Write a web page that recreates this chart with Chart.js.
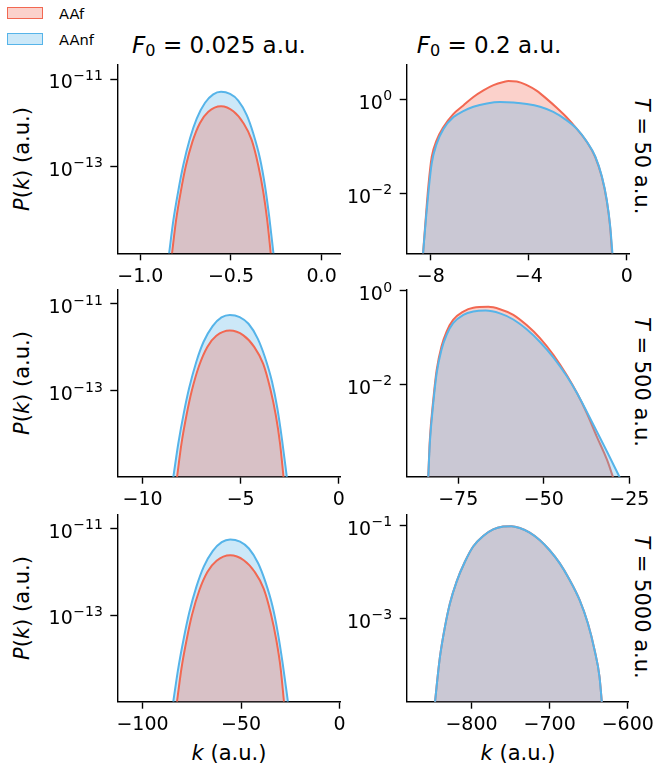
<!DOCTYPE html>
<html>
<head>
<meta charset="utf-8">
<script src="https://cdn.jsdelivr.net/npm/chart.js@4.4.1/dist/chart.umd.min.js"></script>
<style>
  html, body { margin: 0; padding: 0; background: #fff; }
  #fig { position: relative; width: 659px; height: 769px; overflow: hidden;
         font-family: 'DejaVu Sans', sans-serif; color: #000; }
  #fig canvas { position: absolute; }
  .lbl { position: absolute; white-space: nowrap; line-height: 1; transform: translate(-50%, -50%); }
  .title { font-size: 23px; }
  .axl { font-size: 21px; }
  .sw { position: absolute; width: 34px; height: 10px; border: 1.6px solid; }
  .legt { position: absolute; font-size: 14.7px; line-height: 1; transform: translateY(-50%); }
  sub { font-size: 0.7em; vertical-align: -0.22em; line-height: 0; }
</style>
</head>
<body>
<div id="fig">
  <div class="sw" style="left:7px;top:7px;border-color:#F26852;background:rgba(242,104,82,0.3)"></div>
  <div class="legt" style="left:59px;top:14px">AAf</div>
  <div class="sw" style="left:7px;top:33px;border-color:#56B4E9;background:rgba(86,180,233,0.3)"></div>
  <div class="legt" style="left:59px;top:40px">AAnf</div>

  <div class="lbl title" style="left:219px;top:45px"><i>F</i><sub>0</sub> = 0.025 a.u.</div>
  <div class="lbl title" style="left:489px;top:45px"><i>F</i><sub>0</sub> = 0.2 a.u.</div>

  <div class="lbl axl" style="left:22px;top:159px;transform:translate(-50%,-50%) rotate(-90deg)"><i>P</i>(<i>k</i>) (a.u.)</div>
  <div class="lbl axl" style="left:22px;top:383px;transform:translate(-50%,-50%) rotate(-90deg)"><i>P</i>(<i>k</i>) (a.u.)</div>
  <div class="lbl axl" style="left:22px;top:608px;transform:translate(-50%,-50%) rotate(-90deg)"><i>P</i>(<i>k</i>) (a.u.)</div>

  <div class="lbl axl" style="left:641px;top:156px;transform:translate(-50%,-50%) rotate(90deg)"><i>T</i> = 50 a.u.</div>
  <div class="lbl axl" style="left:641px;top:382px;transform:translate(-50%,-50%) rotate(90deg)"><i>T</i> = 500 a.u.</div>
  <div class="lbl axl" style="left:641px;top:607px;transform:translate(-50%,-50%) rotate(90deg)"><i>T</i> = 5000 a.u.</div>

  <div class="lbl axl" style="left:229px;top:753px"><i>k</i> (a.u.)</div>
  <div class="lbl axl" style="left:518px;top:753px"><i>k</i> (a.u.)</div>
</div>

<script>
// Photoelectron momentum distributions P(k), F0 = 0.025 a.u. (left column) and F0 = 0.2 a.u. (right column)

// F0 = 0.025 a.u., T = 50 a.u.
const kAAnf_025_50 = [-0.842, -0.818, -0.790, -0.763, -0.726, -0.689, -0.643, -0.598, -0.555, -0.505, -0.460, -0.413, -0.377, -0.340, -0.313, -0.289, -0.265];
const pAAnf_025_50 = [1.0e-15, 6.0e-15, 2.95e-14, 1.10e-13, 4.47e-13, 1.26e-12, 2.88e-12, 4.47e-12, 5.13e-12, 4.57e-12, 3.24e-12, 1.51e-12, 5.75e-13, 1.55e-13, 3.80e-14, 7.2e-15, 1.0e-15];
const kAAf_025_50 = [-0.826, -0.803, -0.777, -0.750, -0.713, -0.671, -0.625, -0.555, -0.487, -0.432, -0.386, -0.350, -0.322, -0.300, -0.280];
const pAAf_025_50 = [1.0e-15, 6.0e-15, 2.7e-14, 1.0e-13, 3.7e-13, 1.0e-12, 1.8e-12, 2.4e-12, 1.85e-12, 1.0e-12, 4.1e-13, 1.1e-13, 2.7e-14, 6.0e-15, 1.0e-15];

// F0 = 0.025 a.u., T = 500 a.u.
const kAAnf_025_500 = [-8.44, -8.18, -7.90, -7.63, -7.26, -6.89, -6.43, -5.98, -5.55, -5.05, -4.60, -4.13, -3.77, -3.40, -3.13, -2.89, -2.64];
const pAAnf_025_500 = [1.0e-15, 6.2e-15, 3.1e-14, 1.15e-13, 4.7e-13, 1.35e-12, 3.1e-12, 4.9e-12, 5.6e-12, 5.0e-12, 3.5e-12, 1.6e-12, 6.1e-13, 1.62e-13, 4.0e-14, 7.5e-15, 1.0e-15];
const kAAf_025_500 = [-8.25, -8.02, -7.76, -7.49, -7.12, -6.70, -6.24, -5.55, -4.86, -4.31, -3.85, -3.49, -3.21, -2.99, -2.81];
const pAAf_025_500 = [1.0e-15, 6.1e-15, 2.8e-14, 1.02e-13, 3.8e-13, 1.03e-12, 1.85e-12, 2.45e-12, 1.9e-12, 1.03e-12, 4.2e-13, 1.12e-13, 2.8e-14, 6.1e-15, 1.0e-15];

// F0 = 0.025 a.u., T = 5000 a.u.
const kAAnf_025_5000 = [-84.4, -81.8, -79.0, -76.3, -72.6, -68.9, -64.3, -59.8, -55.5, -50.5, -46.0, -41.3, -37.7, -34.0, -31.3, -28.8, -26.2];
const pAAnf_025_5000 = [1.0e-15, 6.1e-15, 3.0e-14, 1.13e-13, 4.6e-13, 1.32e-12, 3.05e-12, 4.85e-12, 5.6e-12, 4.95e-12, 3.45e-12, 1.58e-12, 6.0e-13, 1.6e-13, 3.9e-14, 7.4e-15, 1.0e-15];
const kAAf_025_5000 = [-82.5, -80.2, -77.6, -74.9, -71.2, -67.0, -62.4, -55.5, -48.6, -43.1, -38.5, -34.9, -32.1, -29.9, -28.2];
const pAAf_025_5000 = [1.0e-15, 6.0e-15, 2.7e-14, 1.0e-13, 3.7e-13, 1.0e-12, 1.8e-12, 2.4e-12, 1.85e-12, 1.0e-12, 4.1e-13, 1.1e-13, 2.7e-14, 6.0e-15, 1.0e-15];

// F0 = 0.2 a.u., T = 50 a.u.
const kAAf_02_50 = [-8.33, -8.19, -8.10, -7.96, -7.76, -7.48, -7.07, -6.67, -6.26, -5.85, -5.44, -5.03, -4.83, -4.49, -4.08, -3.67, -3.27, -2.86, -2.45, -2.04, -1.63, -1.29, -1.02, -0.82, -0.68, -0.59];
const pAAf_02_50 = [4.0e-4, 3.6e-3, 1.35e-2, 5.9e-2, 0.133, 0.257, 0.49, 0.74, 1.12, 1.55, 2.0, 2.34, 2.45, 2.40, 2.0, 1.51, 1.02, 0.66, 0.41, 0.234, 0.123, 0.059, 0.022, 6.9e-3, 1.86e-3, 4.0e-4];
const kAAnf_02_50 = [-8.33, -8.19, -8.10, -7.96, -7.76, -7.48, -7.07, -6.67, -6.26, -5.71, -5.17, -4.63, -4.08, -3.54, -3.00, -2.45, -2.04, -1.63, -1.29, -1.02, -0.82, -0.68, -0.57];
const pAAnf_02_50 = [4.0e-4, 3.1e-3, 9.8e-3, 4.3e-2, 0.112, 0.234, 0.417, 0.562, 0.692, 0.813, 0.871, 0.851, 0.794, 0.692, 0.537, 0.355, 0.234, 0.125, 0.061, 0.023, 7.3e-3, 2.0e-3, 4.0e-4];

// F0 = 0.2 a.u., T = 500 a.u.
const kAAf_02_500 = [-83.8, -83.3, -82.3, -81.3, -79.9, -78.4, -76.5, -73.5, -70.6, -66.2, -62.8, -58.9, -55.0, -51.1, -47.2, -43.3, -40.3, -37.4, -34.5, -31.5, -29.6];
const pAAf_02_500 = [9.0e-5, 6.5e-4, 4.6e-3, 2.04e-2, 6.5e-2, 0.135, 0.24, 0.363, 0.437, 0.457, 0.407, 0.309, 0.186, 0.098, 0.043, 0.0158, 6.5e-3, 2.4e-3, 7.6e-4, 2.4e-4, 9.5e-5];
const kAAnf_02_500 = [-83.8, -83.3, -82.3, -81.3, -79.9, -78.4, -76.5, -73.5, -70.6, -67.0, -62.8, -58.9, -55.0, -51.1, -47.2, -43.3, -40.3, -37.4, -34.5, -31.5, -27.6];
const pAAnf_02_500 = [9.0e-5, 5.5e-4, 3.9e-3, 1.74e-2, 5.5e-2, 0.115, 0.204, 0.309, 0.363, 0.38, 0.331, 0.245, 0.151, 0.081, 0.038, 0.0151, 6.5e-3, 2.57e-3, 9.8e-4, 3.6e-4, 9.5e-5];

// F0 = 0.2 a.u., T = 5000 a.u.
const kAAf_02_5000 = [-847.0, -844.7, -840.4, -834.0, -827.7, -819.1, -808.5, -797.9, -785.1, -772.3, -759.6, -748.9, -738.3, -725.5, -712.8, -700.0, -687.2, -674.5, -661.7, -651.1, -642.6, -636.2, -633.0];
const pAAf_02_5000 = [1.4e-5, 3.4e-5, 1.48e-4, 6.6e-4, 2.09e-3, 6.2e-3, 0.0166, 0.0355, 0.060, 0.083, 0.0955, 0.0977, 0.089, 0.0708, 0.049, 0.0295, 0.0155, 6.8e-3, 2.5e-3, 7.8e-4, 2.1e-4, 5.5e-5, 1.4e-5];
const kAAnf_02_5000 = [-847.0, -844.7, -840.4, -834.0, -827.7, -819.1, -808.5, -797.9, -785.1, -772.3, -759.6, -748.9, -738.3, -725.5, -712.8, -700.0, -687.2, -674.5, -661.7, -651.1, -642.6, -636.2, -633.0];
const pAAnf_02_5000 = [1.4e-5, 3.4e-5, 1.48e-4, 6.6e-4, 2.09e-3, 6.2e-3, 0.0166, 0.0355, 0.060, 0.083, 0.0955, 0.0977, 0.089, 0.0708, 0.049, 0.0295, 0.0155, 6.8e-3, 2.5e-3, 7.8e-4, 2.1e-4, 5.5e-5, 1.4e-5];

// tick values
const xTicks_025_50 = [-1.0, -0.5, 0.0];
const xTicks_025_500 = [-10, -5, 0];
const xTicks_025_5000 = [-100, -50, 0];
const xTicks_02_50 = [-8, -4, 0];
const xTicks_02_500 = [-75, -50, -25];
const xTicks_02_5000 = [-800, -700, -600];
const yTicks_025 = [1e-13, 1e-11];
const yTicks_02_50 = [1e-2, 1];
const yTicks_02_500 = [1e-2, 1];
const yTicks_02_5000 = [1e-3, 1e-1];

const RED = '#F26852', RED_FILL = 'rgba(242,104,82,0.30)';
const BLUE = '#56B4E9', BLUE_FILL = 'rgba(86,180,233,0.30)';
const FONT = "'DejaVu Sans', sans-serif";
const TICK_PX = 19, SUP_PX = 14;

function numLabel(dec) {
  return v => (v < 0 ? '\u2212' : '') + Math.abs(v).toFixed(dec);
}

// log-axis labels written as 10 with a raised exponent
const powerLabels = {
  id: 'powerLabels',
  afterDraw(chart) {
    const s = chart.scales.y, ctx = chart.ctx;
    ctx.save();
    ctx.fillStyle = '#000';
    ctx.textBaseline = 'alphabetic';
    ctx.textAlign = 'left';
    s.ticks.forEach(t => {
      const y = s.getPixelForValue(t.value);
      const exp = String(Math.round(Math.log10(t.value))).replace('-', '\u2212');
      ctx.font = TICK_PX + 'px ' + FONT;
      const wb = ctx.measureText('10').width;
      ctx.font = SUP_PX + 'px ' + FONT;
      const we = ctx.measureText(exp).width;
      const xr = s.right - 7 - 8;
      const x0 = xr - wb - we;
      ctx.font = TICK_PX + 'px ' + FONT;
      ctx.fillText('10', x0, y + 9.4);
      ctx.font = SUP_PX + 'px ' + FONT;
      ctx.fillText(exp, x0 + wb + 0.5, y + 0.6);
    });
    ctx.restore();
  }
};

// axes boxes on the page and their ranges
const panels = [
  { col: 0, area: { l: 117.3, t: 65, r: 340.5, b: 253.3 }, x: [-1.127, 0.104], y: [1.07e-15, 2.09e-11],
    xt: xTicks_025_50, xdec: 1, yt: yTicks_025,
    red: [kAAf_025_50, pAAf_025_50], blue: [kAAnf_025_50, pAAnf_025_50] },
  { col: 0, area: { l: 117.3, t: 290, r: 340.5, b: 476.7 }, x: [-11.29, 0.09], y: [1.07e-15, 2.09e-11],
    xt: xTicks_025_500, xdec: 0, yt: yTicks_025,
    red: [kAAf_025_500, pAAf_025_500], blue: [kAAnf_025_500, pAAnf_025_500] },
  { col: 0, area: { l: 117.3, t: 515, r: 340.5, b: 701.7 }, x: [-112.8, 0.5], y: [1.0e-15, 2.05e-11],
    xt: xTicks_025_5000, xdec: 0, yt: yTicks_025,
    red: [kAAf_025_5000, pAAf_025_5000], blue: [kAAnf_025_5000, pAAnf_025_5000] },
  { col: 1, area: { l: 406.7, t: 65, r: 629.3, b: 253.3 }, x: [-8.98, 0.1], y: [5.25e-4, 5.37],
    xt: xTicks_02_50, xdec: 0, yt: yTicks_02_50,
    red: [kAAf_02_50, pAAf_02_50], blue: [kAAnf_02_50, pAAnf_02_50] },
  { col: 1, area: { l: 406.7, t: 290, r: 629.3, b: 476.7 }, x: [-90.06, -25], y: [1.05e-4, 1.05],
    xt: xTicks_02_500, xdec: 0, yt: yTicks_02_500,
    red: [kAAf_02_500, pAAf_02_500], blue: [kAAnf_02_500, pAAnf_02_500] },
  { col: 1, area: { l: 406.7, t: 515, r: 629.3, b: 701.7 }, x: [-883, -598.7], y: [1.58e-5, 0.17],
    xt: xTicks_02_5000, xdec: 0, yt: yTicks_02_5000,
    red: [kAAf_02_5000, pAAf_02_5000], blue: [kAAnf_02_5000, pAAnf_02_5000] }
];

function series(label, pair, color, fillColor) {
  const [ks, ps] = pair;
  return {
    label,
    data: ks.map((k, i) => ({ x: k, y: ps[i] })),
    borderColor: color,
    backgroundColor: fillColor,
    borderWidth: 2,
    pointRadius: 0,
    fill: 'start',
    cubicInterpolationMode: 'monotone'
  };
}

const fig = document.getElementById('fig');
panels.forEach(P => {
  const WY = P.col === 0 ? 80 : 70, PT = 20, PR = P.col === 0 ? 12 : 30, HX = 46;
  const cl = Math.round(P.area.l - WY), ct = Math.round(P.area.t - PT);
  const cw = Math.round(P.area.r + PR) - cl, ch = Math.round(P.area.b + HX) - ct;
  const cv = document.createElement('canvas');
  cv.width = cw; cv.height = ch;
  cv.style.left = cl + 'px'; cv.style.top = ct + 'px';
  cv.style.width = cw + 'px'; cv.style.height = ch + 'px';
  fig.appendChild(cv);

  const yW = P.area.l - cl, xH = ct + ch - P.area.b;
  const redSet = series('AAf', P.red, RED, RED_FILL);
  const blueSet = series('AAnf', P.blue, BLUE, BLUE_FILL);
  // first dataset is painted last (on top)
  const datasets = P.col === 0 ? [redSet, blueSet] : [blueSet, redSet];

  const axisCommon = {
    border: { display: true, color: '#000', width: 1.4 },
    grid: { drawOnChartArea: false, drawTicks: true, tickLength: 7, tickWidth: 1.4, tickColor: '#000', color: '#000' },
  };

  new Chart(cv, {
    type: 'line',
    data: { datasets },
    plugins: [powerLabels],
    options: {
      responsive: false,
      animation: false,
      devicePixelRatio: 1,
      events: [],
      layout: { autoPadding: false, padding: { left: 0, bottom: 0, top: P.area.t - ct, right: cl + cw - P.area.r } },
      plugins: { legend: { display: false }, tooltip: { enabled: false }, title: { display: false } },
      scales: {
        x: Object.assign({}, axisCommon, {
          type: 'linear', position: 'bottom', min: P.x[0], max: P.x[1],
          ticks: { color: '#000', font: { family: FONT, size: TICK_PX }, padding: 5, maxRotation: 0, autoSkip: false,
                   callback: numLabel(P.xdec) },
          afterBuildTicks: s => { s.ticks = P.xt.map(v => ({ value: v })); },
          afterFit: s => { s.height = xH; }
        }),
        y: Object.assign({}, axisCommon, {
          type: 'logarithmic', position: 'left', min: P.y[0], max: P.y[1],
          ticks: { color: '#000', font: { family: FONT, size: TICK_PX }, padding: 6, autoSkip: false,
                   callback: () => '' },
          afterBuildTicks: s => { s.ticks = P.yt.map(v => ({ value: v })); },
          afterFit: s => { s.width = yW; }
        })
      }
    }
  });
});
</script>
</body>
</html>
